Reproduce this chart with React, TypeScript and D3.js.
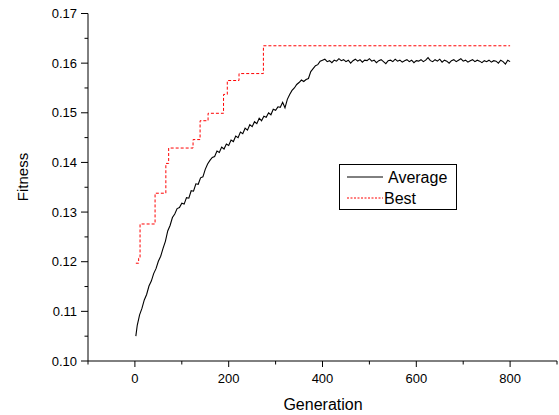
import React from "react";
import * as d3 from "d3";

// Average fitness sampled every 5 generations (first sample at generation 2)
const AVG_FIRST_GEN = 2;
const AVG_STEP = 5;
const averageValues: number[] = [
  0.1050, 0.1072, 0.1093, 0.1106, 0.1123, 0.1134, 0.1151, 0.1161, 0.1176, 0.1186,
  0.1201, 0.1211, 0.1227, 0.1241, 0.1262, 0.1273, 0.1289, 0.1296, 0.1307, 0.1309,
  0.1318, 0.1316, 0.1329, 0.1328, 0.1343, 0.1342, 0.1357, 0.1356, 0.1369, 0.1371,
  0.1386, 0.1397, 0.1404, 0.1410, 0.1412, 0.1423, 0.1420, 0.1431, 0.1427, 0.1437,
  0.1434, 0.1445, 0.1442, 0.1453, 0.1450, 0.1461, 0.1458, 0.1469, 0.1465, 0.1476,
  0.1472, 0.1482, 0.1478, 0.1489, 0.1484, 0.1493, 0.1491, 0.1500, 0.1496, 0.1507,
  0.1505, 0.1512, 0.1511, 0.1521, 0.1510, 0.1527, 0.1537, 0.1545, 0.1550, 0.1557,
  0.1561, 0.1566, 0.1563, 0.1567, 0.1569, 0.1583, 0.1589, 0.1595, 0.1597, 0.1604,
  0.1606,
  0.1608, 0.1603, 0.1605, 0.1601, 0.1606, 0.1604, 0.1609, 0.1605, 0.1607, 0.1603,
  0.1606, 0.1600, 0.1605, 0.1608, 0.1604, 0.1607, 0.1602, 0.1606, 0.1605, 0.1609,
  0.1604, 0.1606, 0.1601, 0.1605, 0.1607, 0.1603, 0.1599, 0.1605, 0.1606, 0.1603,
  0.1608, 0.1604, 0.1606, 0.1602, 0.1605, 0.1607, 0.1603, 0.1606, 0.1601, 0.1605,
  0.1604, 0.1607, 0.1603, 0.1606, 0.1611, 0.1605, 0.1603, 0.1607, 0.1604, 0.1608,
  0.1602, 0.1606, 0.1604, 0.1600, 0.1605, 0.1607, 0.1603, 0.1606, 0.1609, 0.1604,
  0.1606, 0.1602, 0.1605, 0.1607, 0.1603, 0.1606, 0.1604, 0.1601, 0.1605, 0.1603,
  0.1606, 0.1602, 0.1605, 0.1604, 0.1600, 0.1606, 0.1603, 0.1598, 0.1606, 0.1603,
];

// Best fitness: generation where a new best is reached, and its value
const bestGens: number[] = [2, 8, 11, 43, 66, 72, 124, 139, 156, 189, 197, 222, 274, 800];
const bestValues: number[] = [
  0.1197, 0.1207, 0.1276, 0.1338, 0.1398, 0.1429, 0.1446, 0.1484, 0.1499, 0.1537,
  0.1565, 0.1579, 0.1635, 0.1635,
];

const xTicks: number[] = [0, 200, 400, 600, 800];
const yTicks: number[] = [0.1, 0.11, 0.12, 0.13, 0.14, 0.15, 0.16, 0.17];
const xMinorTicks: number[] = [-100, 100, 300, 500, 700, 900];
const yMinorTicks: number[] = [0.105, 0.115, 0.125, 0.135, 0.145, 0.155, 0.165];

const seriesNames = ["Average", "Best"];

const W = 559;
const H = 415;
const FONT = "'Liberation Sans', Arial, sans-serif";

export default function App() {
  const x = d3.scaleLinear().domain([-100, 900]).range([88, 557]);
  const y = d3.scaleLinear().domain([0.1, 0.17]).range([361, 13.5]);

  const avgData: [number, number][] = averageValues.map((v, i) => [
    i === 0 ? AVG_FIRST_GEN : i * AVG_STEP,
    v,
  ]);
  const bestData: [number, number][] = bestGens.map((g, i) => [g, bestValues[i]]);

  const avgLine = d3
    .line<[number, number]>()
    .x((d) => x(d[0]))
    .y((d) => y(d[1]));
  const bestLine = d3
    .line<[number, number]>()
    .x((d) => x(d[0]))
    .y((d) => y(d[1]))
    .curve(d3.curveStepAfter);

  const x0 = x.range()[0];
  const y0 = y.range()[0];

  return (
    <svg
      width={W}
      height={H}
      style={{ position: "absolute", left: 0, top: 0, background: "#fff" }}
      fontFamily={FONT}
    >
      <rect x={0} y={0} width={W} height={H} fill="#fff" />
      {/* data */}
      <path d={bestLine(bestData) || ""} fill="none" stroke="#ff0000" strokeWidth={1} strokeDasharray="3,2" />
      <path d={avgLine(avgData) || ""} fill="none" stroke="#000" strokeWidth={1.1} />

      {/* y axis */}
      <line x1={x0} x2={x0} y1={y.range()[1]} y2={y0} stroke="#000" strokeWidth={1} />
      {yTicks.map((t) => (
        <g key={"yt" + t}>
          <line x1={x0 - 7} x2={x0} y1={y(t)} y2={y(t)} stroke="#000" />
          <text x={x0 - 11} y={y(t)} dy="0.35em" textAnchor="end" fontSize={13}>
            {t.toFixed(2)}
          </text>
        </g>
      ))}
      {yMinorTicks.map((t) => (
        <line key={"ym" + t} x1={x0 - 3.5} x2={x0} y1={y(t)} y2={y(t)} stroke="#000" />
      ))}

      {/* x axis */}
      <line x1={x0} x2={x.range()[1]} y1={y0} y2={y0} stroke="#000" strokeWidth={1} />
      {xTicks.map((t) => (
        <g key={"xt" + t}>
          <line x1={x(t)} x2={x(t)} y1={y0} y2={y0 + 6} stroke="#000" />
          <text x={x(t)} y={y0 + 22} textAnchor="middle" fontSize={13}>
            {t}
          </text>
        </g>
      ))}
      {xMinorTicks.map((t) => (
        <line key={"xm" + t} x1={x(t)} x2={x(t)} y1={y0} y2={y0 + 3.5} stroke="#000" />
      ))}

      {/* axis titles */}
      <text x={323} y={410} textAnchor="middle" fontSize={16}>
        Generation
      </text>
      <text
        transform={`translate(28,177) rotate(-90)`}
        textAnchor="middle"
        fontSize={15}
      >
        Fitness
      </text>

      {/* legend */}
      <rect x={339.5} y={164.5} width={117} height={45} fill="#fff" stroke="#000" strokeWidth={1} />
      <line x1={347} x2={383} y1={177} y2={177} stroke="#000" strokeWidth={1} />
      <text x={388} y={182.5} fontSize={16}>
        {seriesNames[0]}
      </text>
      <line x1={347} x2={383} y1={198} y2={198} stroke="#ff0000" strokeWidth={1} strokeDasharray="2,1.5" />
      <text x={384} y={204} fontSize={16}>
        {seriesNames[1]}
      </text>
    </svg>
  );
}
